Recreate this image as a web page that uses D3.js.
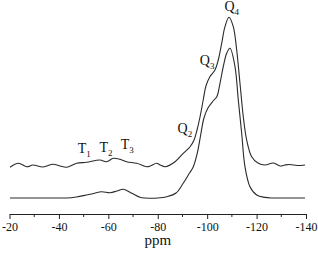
<!DOCTYPE html>
<html>
<head>
<meta charset="utf-8">
<script src="https://cdn.jsdelivr.net/npm/d3@7"></script>
<style>
  html, body { margin:0; padding:0; background:#fff; }
  svg { display:block; font-family:"Liberation Serif", "DejaVu Serif", serif; }
</style>
</head>
<body>
<div id="chart"></div>
<script>
// Data: chemical shift (ppm) and intensity (arbitrary units)
const upperPpm = [-20.2,-23.6,-27,-29.5,-33.6,-37.6,-40.5,-43.1,-47.2,-51.2,-56.6,-59.3,-62,-64.7,-67.4,-71.5,-75.5,-77,-79.6,-81,-83,-87,-90.3,-93,-94.7,-95.9,-97.1,-98.4,-99.5,-101.1,-103.17,-104.5,-105.88,-107.21,-108.83,-110.57,-111.95,-113.28,-114.62,-115.99,-118.02,-120.69,-123.4,-126.8,-129.5,-131.5,-133.5,-136.5,-139.6];
const upperVal = [30.7,34.7,31.3,33,31,33.7,32,30.7,34.7,35.7,38,36.3,39.7,38.7,36.3,34.7,31.3,32,34.7,33,31.3,36.3,44.7,51,58,68,81,98,112,121.3,128,138,154.7,171.3,180.7,171.3,148,114.7,81.3,58,41.3,34.7,33,35,32,33,33.5,32.5,33];

const lowerPpm = [-20.2,-30,-40,-43.1,-47,-51.2,-54,-57.3,-60.7,-63.5,-66.1,-69.5,-72.8,-75,-80,-83.7,-87.4,-90.3,-92.6,-94.4,-96.1,-97.3,-98.7,-100.3,-102.4,-103.9,-105.19,-106.52,-107.9,-109.24,-111.26,-112.6,-113.97,-115.3,-117.33,-120.04,-123.4,-126,-132,-139.6];
const lowerVal = [0,0,0,0,1,3,4.5,6.3,5.3,7,8.7,4.7,0.7,0,0,1.3,5,14.7,24,31.3,46,62,80,90,97,101.3,114.7,131.3,144.7,149.7,131.3,98,64.7,31.3,11.3,3,0.6,0,0,0];

const majorTicks = [-20,-40,-60,-80,-100,-120,-140];
const minorTicks = [-30,-50,-70,-90,-110,-130];
const xTitle = "ppm";

// peak labels: [main, subscript, ppm, intensity at baseline]
const peakLabels = [
  ["T","1",-47.6,45],
  ["T","2",-56.4,46],
  ["T","3",-65.0,49],
  ["Q","2",-88.0,65],
  ["Q","3",-97.0,133],
  ["Q","4",-107.0,187]
];

const W = 318, H = 261;
const svg = d3.select('#chart').append('svg').attr('width', W).attr('height', H);

const x = d3.scaleLinear().domain([-20, -140]).range([9.5, 306]);
const y = d3.scaleLinear().domain([0, 180]).range([198, 18]);
const axisY = 214;

const line = d3.line()
  .x(d => x(d[0]))
  .y(d => y(d[1]))
  .curve(d3.curveCatmullRom.alpha(0.5));

const lower = lowerPpm.map((p, i) => [p, lowerVal[i]]);
const upper = upperPpm.map((p, i) => [p, upperVal[i]]);

svg.append('path').datum(lower).attr('d', line)
  .attr('fill', 'none').attr('stroke', '#2a2a2a').attr('stroke-width', 1.1);
svg.append('path').datum(upper).attr('d', line)
  .attr('fill', 'none').attr('stroke', '#2a2a2a').attr('stroke-width', 1.1);

// axis
const xAxis = svg.append('g').attr('transform', `translate(0,${axisY})`)
  .call(d3.axisBottom(x).tickValues(majorTicks).tickSize(5).tickSizeOuter(0)
    .tickFormat(d => String(d)));
xAxis.select('.domain').attr('stroke', '#222');
xAxis.selectAll('.tick line').attr('stroke', '#222');
xAxis.selectAll('text').attr('font-size', 12).attr('fill', '#111')
  .attr('font-family', '"Liberation Serif", serif');

svg.append('g').attr('transform', `translate(0,${axisY})`)
  .selectAll('line').data(minorTicks).enter().append('line')
  .attr('x1', d => x(d)).attr('x2', d => x(d))
  .attr('y1', 0).attr('y2', 3)
  .attr('stroke', '#222');

svg.append('text').attr('x', x(-80)).attr('y', 245)
  .attr('text-anchor', 'middle').attr('font-size', 15).attr('fill', '#111')
  .text(xTitle);

// peak labels
const lab = svg.selectAll('text.peak').data(peakLabels).enter().append('text')
  .attr('class', 'peak')
  .attr('x', d => x(d[2])).attr('y', d => y(d[3]))
  .attr('font-size', 14).attr('fill', '#111');
lab.append('tspan').text(d => d[0]);
lab.append('tspan').attr('dy', 4).attr('font-size', 9).text(d => d[1]);
</script>
</body>
</html>
